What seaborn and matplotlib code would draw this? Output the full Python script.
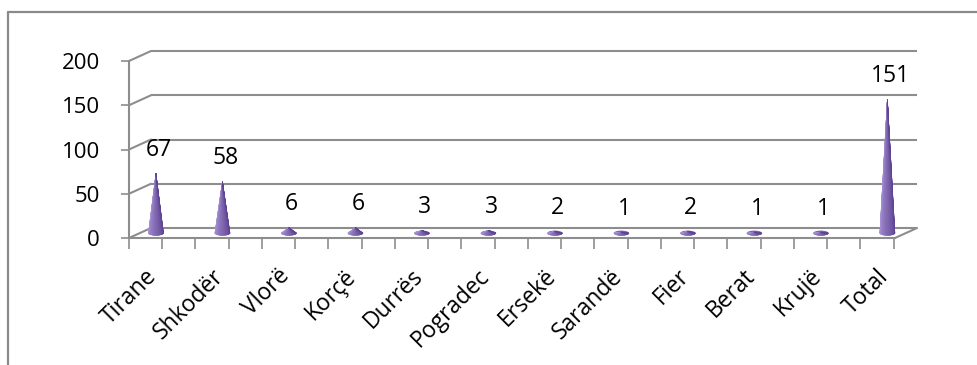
import numpy as np
import pandas as pd
import matplotlib
matplotlib.use("Agg")
import matplotlib.pyplot as plt
from matplotlib.patches import Polygon, Ellipse
from matplotlib.lines import Line2D
from matplotlib.colors import to_rgb
import seaborn as sns

cities = ["Tirane", "Shkodër", "Vlorë", "Korçë", "Durrës", "Pogradec",
          "Ersekë", "Sarandë", "Fier", "Berat", "Krujë", "Total"]
counts = [67, 58, 6, 6, 3, 3, 2, 1, 2, 1, 1, 151]
y_ticks = [0, 50, 100, 150, 200]

sns.set_theme(style="white")
plt.rcParams["font.family"] = ["Open Sans", "DejaVu Sans"]

W, H, DPI = 978, 365, 100
fig = plt.figure(figsize=(W / DPI, H / DPI), dpi=DPI)
fig.patch.set_facecolor("white")

# chart frame (top and left edges)
frame_c = "#8a8a8a"
fig.add_artist(Line2D([8 / W, 8 / W], [0, 1 - 12 / H], color=frame_c, lw=1.6))
fig.add_artist(Line2D([8 / W, 1], [1 - 12 / H, 1 - 12 / H], color=frame_c, lw=1.6))

# front plane of the plot area
left_px, right_px, top_px, bot_px = 129, 895, 61, 238
ax = fig.add_axes([left_px / W, (H - bot_px) / H,
                   (right_px - left_px) / W, (bot_px - top_px) / H])

df = pd.DataFrame({"city": cities, "count": counts})
sns.barplot(data=df, x="city", y="count", ax=ax, color="#8064a2", width=0.2)
bars = list(ax.patches)
for b in bars:
    b.set_visible(False)

x0, x1 = -0.24, 11.28
ax.set_xlim(x0, x1)
ax.set_ylim(0, 200)
for s in ax.spines.values():
    s.set_visible(False)
ax.set_facecolor("none")
ax.set_xlabel("")
ax.set_ylabel("")

# pixel -> data unit conversions
px_x = (x1 - x0) / (right_px - left_px)
px_y = 200 / (bot_px - top_px)
depth_x, depth_y = 22 * px_x, 10 * px_y

grid_c = "#8d8d8d"
lw = 1.5
for v in y_ticks:
    # back wall gridline
    ax.plot([x0 + depth_x, x1 + depth_x], [v + depth_y, v + depth_y],
            color=grid_c, lw=lw, clip_on=False, solid_capstyle="butt")
    # side wall diagonal
    ax.plot([x0, x0 + depth_x], [v, v + depth_y],
            color=grid_c, lw=lw, clip_on=False)
# front vertical axis and floor edges
ax.plot([x0, x0], [0, 200], color=grid_c, lw=lw, clip_on=False)
ax.plot([x0, x1], [0, 0], color=grid_c, lw=lw, clip_on=False)
ax.plot([x1, x1 + depth_x], [0, depth_y], color=grid_c, lw=lw, clip_on=False)

# cones, centred half-way into the depth
light = np.array(to_rgb("#a48fd2"))
dark = np.array(to_rgb("#5e4392"))
mid = np.array(to_rgb("#7d61ae"))
rw = 7.5 * px_x
rh = 2.4 * px_y
for b in bars:
    cx = b.get_x() + b.get_width() / 2 + depth_x / 2
    base = depth_y / 2
    val = b.get_height()
    apex = (cx, base + val)
    ax.add_patch(Ellipse((cx, base), 2 * rw, 2 * rh, color=mid, lw=0,
                         clip_on=False, zorder=3))
    th = np.linspace(0, np.pi, 41)
    for k in range(len(th) - 1):
        t = (th[k] + th[k + 1]) / 2
        f = t / np.pi
        # lighter towards the left-front, darker on the right
        w = np.clip((f - 0.15) / 0.85, 0, 1) ** 0.8
        c = light * (1 - w) + dark * w
        pts = [apex,
               (cx - rw * np.cos(th[k]), base - rh * np.sin(th[k])),
               (cx - rw * np.cos(th[k + 1]), base - rh * np.sin(th[k + 1]))]
        ax.add_patch(Polygon(pts, closed=True, facecolor=c, edgecolor=c,
                             lw=0.4, clip_on=False, zorder=4))
    ax.annotate(f"{int(val)}", (cx, base + val), xytext=(2, 17),
                textcoords="offset points", ha="center", va="center",
                fontsize=16.5, color="black", annotation_clip=False)

# axis ticks and labels
ax.set_yticks(y_ticks)
ax.set_yticklabels([str(v) for v in y_ticks], fontsize=16, color="black")
ax.tick_params(axis="y", left=True, length=6, width=1.2, color=grid_c, pad=15)

ax.set_xticks(range(len(cities)))
ax.set_xticklabels(cities, rotation=45, ha="right", rotation_mode="anchor",
                   fontsize=16.5, color="black")
ax.set_xticks(np.arange(24) * 0.5 + x0, minor=True)
ax.tick_params(axis="x", which="major", bottom=True, length=0, pad=19)
ax.tick_params(axis="x", which="minor", bottom=True, length=8, width=1.2,
               color=grid_c)

fig.savefig("out.png", dpi=DPI, facecolor="white")
